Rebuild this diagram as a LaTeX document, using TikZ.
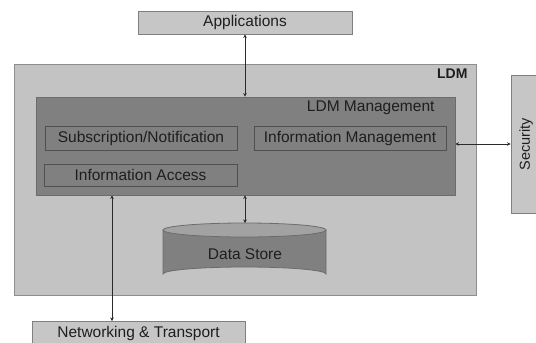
\documentclass[tikz,border=0pt]{standalone}
\usepackage{fontspec}
\setmainfont{Liberation Sans}
\usetikzlibrary{arrows.meta}
\definecolor{outerfill}{HTML}{C3C3C3}
\definecolor{outerline}{HTML}{8E8E8E}
\definecolor{mgmtfill}{HTML}{808080}
\definecolor{mgmtline}{HTML}{6C6C6C}
\definecolor{subline}{HTML}{505050}
\definecolor{extfill}{HTML}{C6C6C6}
\definecolor{extline}{HTML}{808080}
\definecolor{cyltop}{HTML}{A2A2A2}
\definecolor{txt}{HTML}{1E1E1E}
\definecolor{arr}{HTML}{2A2A2A}
\tikzset{
  lbl/.style={font=\fontsize{15.5}{18}\selectfont, text=txt},
  extbox/.style={draw=extline, fill=extfill, line width=0.8pt, inner sep=0pt, lbl},
  subbox/.style={draw=subline, fill=mgmtfill, line width=0.8pt, inner sep=0pt, lbl},
  conn/.style={draw=arr, line width=0.8pt, {Stealth[length=3.5pt,width=3.5pt]}-{Stealth[length=3.5pt,width=3.5pt]}},
}
\begin{document}
\begin{tikzpicture}[x=1pt,y=-1pt]
\useasboundingbox (0,0) rectangle (536,343);
\clip (0,0) rectangle (536,343);
% outer LDM box
\node[draw=outerline, fill=outerfill, line width=0.8pt, minimum width=462pt, minimum height=231pt, inner sep=0pt] (ldm) at (245,179.5) {};
\node[anchor=east, font=\fontsize{14}{16}\selectfont\bfseries, text=txt] (ldmlbl) at (471,74) {LDM};
% management box
\node[draw=mgmtline, fill=mgmtfill, line width=0.8pt, minimum width=419pt, minimum height=98pt, inner sep=0pt] (mgmt) at (245.5,146) {};
\node[anchor=east, lbl] (mgmtlbl) at (438,108) {LDM Management};
\node[subbox, minimum width=192pt, minimum height=24pt] (sub) at (141,138) {Subscription/Notification};
\node[subbox, minimum width=192pt, minimum height=24pt] (im) at (350,138) {Information Management};
\node[subbox, minimum width=193pt, minimum height=22pt] (ia) at (140.5,175) {Information Access};
% external boxes
\node[extbox, minimum width=214pt, minimum height=23pt] (app) at (245,22.5) {Applications};
\node[extbox, minimum width=213pt, minimum height=24pt] (net) at (138.5,333) {Networking \& Transport};
\node[extbox, minimum width=138pt, minimum height=30pt, rotate=90, font=\fontsize{14.5}{17}\selectfont] (sec) at (526,144) {Security};
% data store cylinder
\path[draw=mgmtline, fill=mgmtfill, line width=0.8pt]
  (163,230) -- (163,274) arc[start angle=180, end angle=360, x radius=81.5, y radius=7] -- (326,230) -- cycle;
\path[draw=mgmtline, fill=cyltop, line width=0.8pt]
  (244.5,230) ellipse[x radius=81.5, y radius=7];
\node[lbl] (ds) at (245,254) {Data Store};
\coordinate (dstop) at (245,223);
\coordinate (nettop) at (112,321);
% connectors
\draw[conn] (app.south) -- (mgmt.north -| app.south);
\draw[conn] (mgmt.south -| dstop) -- (dstop);
\draw[conn] (mgmt.east |- sec.center) -- (sec.north);
\draw[conn] (mgmt.south -| nettop) -- (nettop);
\end{tikzpicture}
\end{document}
